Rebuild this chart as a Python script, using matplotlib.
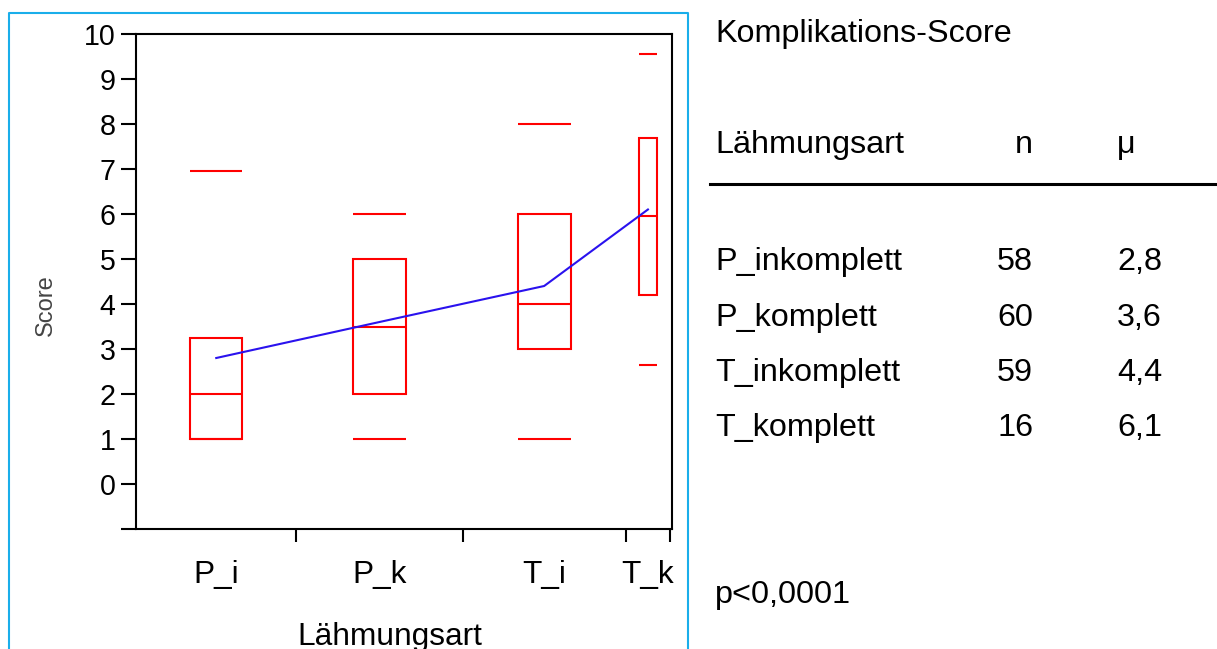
import matplotlib
matplotlib.use("Agg")
import matplotlib.pyplot as plt
from matplotlib.patches import Rectangle
from matplotlib.lines import Line2D
import numpy as np

plt.rcParams['font.family'] = ['Liberation Sans', 'DejaVu Sans']

# Groups (short axis labels and full names) with sample sizes and means
groups = ["P_i", "P_k", "T_i", "T_k"]
group_names = ["P_inkomplett", "P_komplett", "T_inkomplett", "T_komplett"]
n_counts = [58, 60, 59, 16]
means = [2.8, 3.6, 4.4, 6.1]

# Quantile summaries of the complication score per group
whisk_lo = [1.0, 1.0, 1.0, 2.65]
q1 = [1.0, 2.0, 3.0, 4.2]
median = [2.0, 3.5, 4.0, 5.95]
q3 = [3.25, 5.0, 6.0, 7.7]
whisk_hi = [6.95, 6.0, 8.0, 9.55]

y_ticks = list(range(-1, 11))
y_ticklabels = [""] + [str(v) for v in range(0, 11)]
title = "Komplikations-Score"
col_headers = ["Lähmungsart", "n", "\u03bc"]
p_text = "p<0,0001"

W, H = 1217, 649
fig = plt.figure(figsize=(W / 100, H / 100), dpi=100)
fig.patch.set_facecolor("white")


def fx(x):
    return x / W


def fy(y):
    return 1 - y / H


ax = fig.add_axes([fx(136), fy(529), (672 - 136) / W, (529 - 34) / H])

edges = np.concatenate([[0], np.cumsum(n_counts)])
centers = (edges[:-1] + edges[1:]) / 2
widths = 0.3 * np.array(n_counts) + 1.5

red = "#FF0000"
for c, w, lo, a, m, b, hi in zip(centers, widths, whisk_lo, q1, median, q3, whisk_hi):
    ax.add_patch(Rectangle((c - w / 2, a), w, b - a, fill=False,
                           edgecolor=red, lw=1.5))
    ax.hlines([m, lo, hi], c - w / 2, c + w / 2, colors=red, lw=1.5)

ax.plot(centers, means, color="#2A12EE", lw=1.5)

ax.set_xlim(0, edges[-1] + 0.7)
ax.set_ylim(-1, 10)
ax.set_yticks(y_ticks)
ax.set_yticklabels(y_ticklabels)
ax.set_xticks(edges[1:])
ax.set_xticklabels([])
ax.set_xticks(centers, minor=True)
ax.set_xticklabels(groups, minor=True)
ax.tick_params(axis="x", which="major", length=9, width=1.5, direction="out")
ax.tick_params(axis="x", which="minor", length=0, pad=22, labelsize=22.8)
ax.tick_params(axis="y", length=11, width=1.5, pad=3.6, labelsize=20.6)
for s in ax.spines.values():
    s.set_linewidth(1.5)

# Axis titles
fig.text(fx(46), fy(305), "Score", rotation=90, ha="center", va="center",
         fontsize=17, color="#444444")
fig.text(fx(390), fy(645), "Lähmungsart", ha="center", va="baseline",
         fontsize=22.8)

# Frame around the plot panel
fig.add_artist(Line2D([fx(9), fx(9), fx(688), fx(688)],
                      [fy(660), fy(13), fy(13), fy(660)],
                      transform=fig.transFigure, color="#1AAEEA", lw=1.5))

# Summary table on the right
fs = 23.3
fig.text(fx(715), fy(42), title, fontsize=fs, va="baseline")
fig.text(fx(715), fy(153), col_headers[0], fontsize=fs, va="baseline")
fig.text(fx(1033), fy(153), col_headers[1], fontsize=fs, va="baseline", ha="right")
fig.text(fx(1117), fy(153), col_headers[2], fontsize=fs, va="baseline")
fig.add_artist(Line2D([fx(710), fx(1217)], [fy(184), fy(184)],
                      transform=fig.transFigure, color="black", lw=2.2))

row_y = [270, 326, 381, 436]
for yy, name, n, mu in zip(row_y, group_names, n_counts, means):
    fig.text(fx(715), fy(yy), name, fontsize=fs, va="baseline")
    fig.text(fx(1033), fy(yy), str(n), fontsize=fs, va="baseline", ha="right")
    fig.text(fx(1117), fy(yy), f"{mu:.1f}".replace(".", ","), fontsize=fs,
             va="baseline")

fig.text(fx(715), fy(603), p_text, fontsize=fs, va="baseline")

fig.savefig("out.png", dpi=100, facecolor="white")
